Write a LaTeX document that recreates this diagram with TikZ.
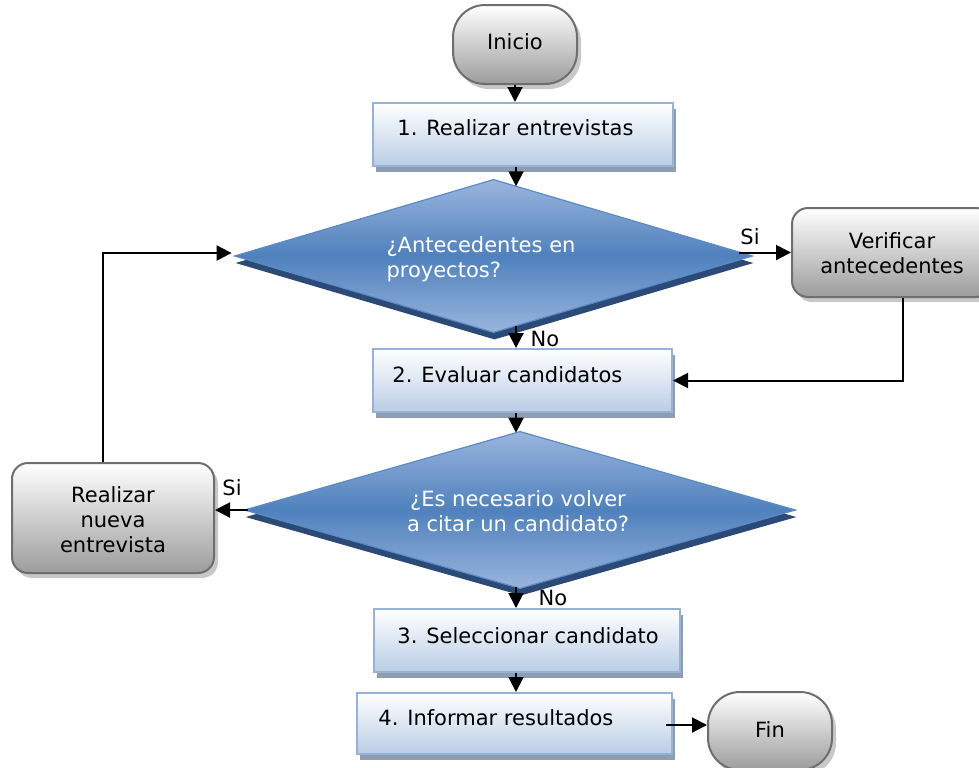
\documentclass[tikz,border=0pt]{standalone}
\usepackage{fontspec}
\setmainfont{DejaVu Sans}
\usetikzlibrary{arrows.meta,calc}
\definecolor{procBot}{HTML}{B9CDE5}
\definecolor{procLine}{HTML}{95B3D7}
\definecolor{procShadow}{HTML}{8E9DB0}
\definecolor{termBot}{HTML}{9C9C9C}
\definecolor{termLine}{HTML}{6E6E6E}
\definecolor{termShadow}{HTML}{C8C8C8}
\definecolor{decLight}{HTML}{9AB5DD}
\definecolor{decMid}{HTML}{4F81BD}
\definecolor{decLine}{HTML}{5A8AC8}
\definecolor{decShadow}{HTML}{2C4A76}
\tikzset{
  procbox/.style={rectangle, inner sep=0pt, draw=procLine, line width=1pt,
    top color=white, bottom color=procBot,
    preaction={fill=procShadow, transform canvas={xshift=1.5pt,yshift=-3pt}}},
  termbox/.style={rectangle, rounded corners=16pt, inner sep=0pt, draw=termLine, line width=1pt,
    top color=white, bottom color=termBot, align=center,
    preaction={fill=termShadow, transform canvas={xshift=2pt,yshift=-2.5pt}}},
  roundbox/.style={termbox, rounded corners=8pt},
  dnode/.style={rectangle, inner sep=0pt},
  decision/.style={draw=decLine, line width=0.6pt, top color=decLight, bottom color=decLight, middle color=decMid,
    preaction={fill=decShadow, transform canvas={xshift=0.5pt,yshift=-3.5pt}}},
  txt/.style={inner sep=0pt, text=black},
  dtxt/.style={inner sep=0pt, text=white},
  lbl/.style={inner sep=0pt, text=black},
  arr/.style={draw=black, line width=1pt, -{Triangle[length=7.5pt,width=7.5pt]}}
}
\begin{document}
\begin{tikzpicture}[x=0.5pt,y=-0.5pt, font=\fontsize{10.5pt}{12.5pt}\selectfont]
\useasboundingbox (0,0) rectangle (979,767);
\clip (0,0) rectangle (979,767);
\fill[white] (0,0) rectangle (979,767);

% terminals and rounded boxes
\node[termbox, minimum width=62pt, minimum height=39.5pt] (ini) at (515,44.5) {};
\node[txt] (tini) at (515,42) {Inicio};
\node[termbox, minimum width=62pt, minimum height=39pt] (fin) at (770,731) {};
\node[txt] (tfin) at (770,730) {Fin};
\node[roundbox, minimum width=100pt, minimum height=44.5pt] (vr) at (892,252.5) {};
\node[txt, align=center] (tvr) at (892,253) {Verificar\\antecedentes};
\node[roundbox, minimum width=101pt, minimum height=55pt] (rn) at (113,518) {};
\node[txt, align=center] (trn) at (113,520) {Realizar\\nueva\\entrevista};

% process boxes
\node[procbox, minimum width=150pt, minimum height=31.5pt] (b1) at (523,134.5) {};
\node[txt, anchor=base west] (tb1) at (397,135) {1. Realizar entrevistas};
\node[procbox, minimum width=149.5pt, minimum height=31.5pt] (b2) at (522.5,380.5) {};
\node[txt, anchor=base west] (tb2) at (392,382) {2. Evaluar candidatos};
\node[procbox, minimum width=153pt, minimum height=31.5pt] (b3) at (527,640.5) {};
\node[txt, anchor=base west] (tb3) at (397,643) {3. Seleccionar candidato};
\node[procbox, minimum width=157.5pt, minimum height=30.5pt] (b4) at (514.5,723.5) {};
\node[txt, anchor=base west] (tb4) at (378,725) {4. Informar resultados};

% decisions
\node[dnode, minimum width=258.5pt, minimum height=76pt] (d1) at (493.5,256) {};
\path[decision] (d1.north) -- (d1.east) -- (d1.south) -- (d1.west) -- cycle;
\node[dtxt, align=left] (td1) at (481,259) {¿Antecedentes en\\proyectos?};
\node[dnode, minimum width=275pt, minimum height=78pt] (d2) at (520,510) {};
\path[decision] (d2.north) -- (d2.east) -- (d2.south) -- (d2.west) -- cycle;
\node[dtxt, align=center] (td2) at (518,511) {¿Es necesario volver\\a citar un candidato?};

% labels
\node[lbl] (si1) at (750,237) {Si};
\node[lbl] (no1) at (545,339) {No};
\node[lbl] (si2) at (232,488) {Si};
\node[lbl] (no2) at (553,598) {No};

% helper coordinates
\coordinate (p1) at ($(d1.north)!0.087!(d1.east)$);
\coordinate (q1) at ($(d1.south)!0.087!(d1.east)$);
\coordinate (p2) at ($(d2.north)!0.0145!(d2.west)$);
\coordinate (q2) at ($(d2.south)!0.0145!(d2.west)$);
\coordinate (s1) at ([xshift=-6.5pt]d1.east);
\coordinate (vrb) at ([xshift=5.5pt]vr.south);
\coordinate (s2) at ([xshift=1.5pt]d2.west);
\coordinate (rnt) at ([xshift=-5pt]rn.north);
\coordinate (t3) at ([xshift=-5.5pt]b3.south);
\coordinate (t4) at ([xshift=-3.5pt,yshift=-0.75pt]b4.east);

% connectors
\draw[arr] (ini.south) -- (ini.south |- b1.north);
\draw[arr] (b1.south -| p1) -- (p1);
\draw[arr] (s1 |- vr.west) -- (vr.west);
\draw[arr] (vrb) |- (b2.east);
\draw[arr] (q1) -- (q1 |- b2.north);
\draw[arr] (b2.south -| p2) -- (p2);
\draw[arr] (s2) -- (s2 -| rn.east);
\draw[arr] (rnt) |- ([xshift=-1.5pt,yshift=1.5pt]d1.west);
\draw[arr] (q2) -- (q2 |- b3.north);
\draw[arr] (t3) -- (t3 |- b4.north);
\draw[arr] (t4) -- (t4 -| fin.west);
\end{tikzpicture}
\end{document}
